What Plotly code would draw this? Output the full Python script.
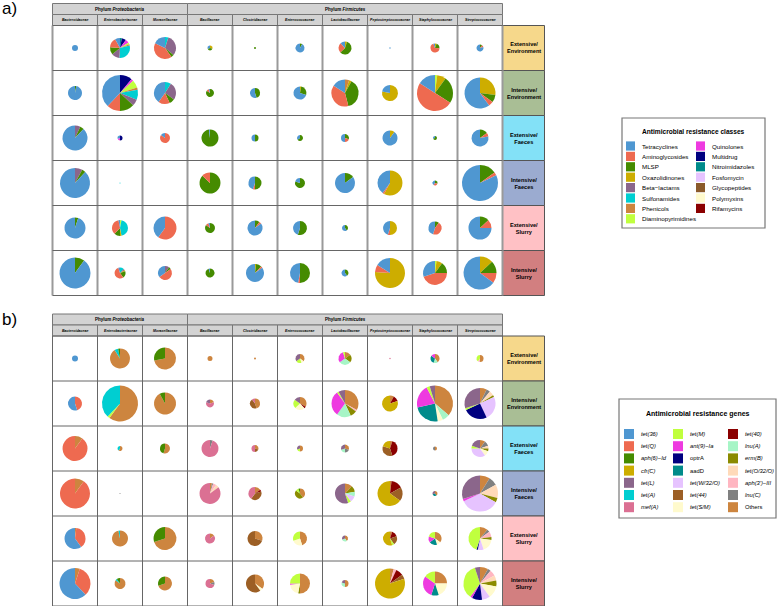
import plotly.graph_objects as go

W, H = 777, 606

FAMILIES = ['Bacteroidaceae', 'Enterobacteriaceae', 'Moraxellaceae', 'Bacillaceae', 'Clostridiaceae',
            'Enterococcaceae', 'Lactobacillaceae', 'Peptostreptococcaceae', 'Staphylococcaceae',
            'Streptococcaceae']
CONDITIONS = ['Extensive/<br>Environment', 'Intensive/<br>Environment', 'Extensive/<br>Faeces',
              'Intensive/<br>Faeces', 'Extensive/<br>Slurry', 'Intensive/<br>Slurry']
COND_COLORS = ['#F6D88B', '#A9BE95', '#83E1F7', '#9BABD0', '#FFC1C5', '#D27F80']

CLASSES = ['Tetracyclines', 'Aminoglycosides', 'MLSP', 'Oxazolidinones', 'Beta-lactams', 'Sulfonamides',
           'Phenicols', 'Diaminopyrimidines', 'Quinolones', 'Multidrug', 'Nitroimidazoles', 'Fosfomycin',
           'Glycopeptides', 'Polymyxins', 'Rifamycins']
CLASS_COLORS = ['#4F97D1', '#EE6A50', '#458B00', '#CDAD00', '#8B668B', '#00CED1', '#CD853F', '#C0FF3E',
                '#EE3AE0', '#000080', '#008B8B', '#E6C3FF', '#8B5A2B', '#FFFACD', '#8B0000']

GENES = ['tet(36)', 'tet(Q)', 'aph(6)-Id', 'cfr(C)', 'tet(L)', 'tet(A)', 'mef(A)', 'tet(M)', 'ant(9)-Ia',
         'optrA', 'aadD', 'tet(W/32/O)', 'tet(44)', 'tet(S/M)', 'tet(40)', 'lnu(A)', 'erm(B)',
         'tet(O/32/O)', "aph(3')-III", 'lnu(C)', 'Others']
GENE_COLORS = ['#4F97D1', '#EE6A50', '#458B00', '#CDAD00', '#8B668B', '#00CED1', '#DB7093', '#C0FF3E',
               '#EE3AE0', '#000080', '#008B8B', '#E6C3FF', '#9C5F25', '#FFFACD', '#8B0000', '#A6F5C6',
               '#8B8B00', '#FFDAB9', '#FFB6C1', '#808080', '#CD853F']

# total abundance per cell (rows = conditions, cols = families)
ABUNDANCE = [
    [36, 400, 484, 25, 4, 81, 169, 2, 81, 49],
    [196, 1296, 484, 64, 100, 169, 729, 256, 1296, 961],
    [625, 25, 100, 289, 49, 36, 64, 225, 16, 289],
    [900, 1, 0, 441, 169, 100, 400, 625, 25, 1296],
    [441, 256, 529, 100, 225, 196, 36, 196, 169, 529],
    [961, 121, 196, 81, 324, 400, 49, 900, 576, 1089],
]

# ---- panel a: resistance classes ----
CLS_EXT_ENV = [
    {'Tetracyclines': 1},
    {'Tetracyclines': .08, 'Aminoglycosides': .16, 'MLSP': .12, 'Beta-lactams': .13, 'Sulfonamides': .30,
     'Phenicols': .02, 'Diaminopyrimidines': .03, 'Quinolones': .06, 'Multidrug': .07, 'Nitroimidazoles': .03},
    {'Tetracyclines': .18, 'Aminoglycosides': .42, 'MLSP': .04, 'Beta-lactams': .31, 'Sulfonamides': .05},
    {'Tetracyclines': .3, 'MLSP': .4, 'Oxazolidinones': .3},
    {'MLSP': 1},
    {'Tetracyclines': .92, 'MLSP': .08},
    {'Tetracyclines': .12, 'Aminoglycosides': .25, 'MLSP': .58, 'Oxazolidinones': .05},
    {'Tetracyclines': 1},
    {'Tetracyclines': .06, 'Aminoglycosides': .68, 'MLSP': .2, 'Oxazolidinones': .06},
    {'Tetracyclines': .8, 'Aminoglycosides': .1, 'MLSP': .1},
]
CLS_INT_ENV = [
    {'Tetracyclines': .97, 'MLSP': .03},
    {'Tetracyclines': .38, 'Aminoglycosides': .12, 'MLSP': .13, 'Beta-lactams': .06, 'Sulfonamides': .09,
     'Phenicols': .02, 'Diaminopyrimidines': .07, 'Quinolones': .02, 'Multidrug': .11},
    {'Tetracyclines': .4, 'Aminoglycosides': .17, 'MLSP': .08, 'Beta-lactams': .26, 'Sulfonamides': .09},
    {'Tetracyclines': .05, 'Aminoglycosides': .1, 'MLSP': .85},
    {'Tetracyclines': .55, 'MLSP': .45},
    {'Tetracyclines': .7, 'MLSP': .27, 'Oxazolidinones': .03},
    {'Tetracyclines': .16, 'Aminoglycosides': .38, 'MLSP': .38, 'Oxazolidinones': .03, 'Phenicols': .05},
    {'Tetracyclines': .22, 'Oxazolidinones': .78},
    {'Tetracyclines': .16, 'Aminoglycosides': .5, 'MLSP': .24, 'Oxazolidinones': .08, 'Diaminopyrimidines': .02},
    {'Tetracyclines': .6, 'Aminoglycosides': .05, 'MLSP': .08, 'Oxazolidinones': .27},
]
CLS_EXT_FAE = [
    {'Tetracyclines': .88, 'MLSP': .05, 'Beta-lactams': .07},
    {'Tetracyclines': .3, 'Quinolones': .2, 'Multidrug': .5},
    {'Tetracyclines': .15, 'Aminoglycosides': .85},
    {'Tetracyclines': .02, 'MLSP': .98},
    {'Tetracyclines': .5, 'MLSP': .5},
    {'Tetracyclines': .35, 'MLSP': .65},
    {'Tetracyclines': .5, 'Aminoglycosides': .2, 'MLSP': .3},
    {'Tetracyclines': .9, 'Oxazolidinones': .1},
    {'Tetracyclines': .3, 'MLSP': .7},
    {'Tetracyclines': .78, 'Aminoglycosides': .07, 'MLSP': .15},
]
CLS_INT_FAE = [
    {'Tetracyclines': .88, 'MLSP': .04, 'Beta-lactams': .08},
    {'Sulfonamides': 1},
    {},
    {'Aminoglycosides': .13, 'MLSP': .87},
    {'Tetracyclines': .45, 'Aminoglycosides': .05, 'MLSP': .5},
    {'Tetracyclines': .2, 'MLSP': .8},
    {'Tetracyclines': .85, 'MLSP': .15},
    {'Tetracyclines': .4, 'Aminoglycosides': .02, 'Oxazolidinones': .58},
    {'Tetracyclines': .4, 'Aminoglycosides': .3, 'MLSP': .3},
    {'Tetracyclines': .82, 'Aminoglycosides': .03, 'MLSP': .15},
]
CLS_EXT_SLU = [
    {'Tetracyclines': .95, 'MLSP': .05},
    {'Tetracyclines': .03, 'Aminoglycosides': .35, 'MLSP': .12, 'Oxazolidinones': .03, 'Sulfonamides': .44,
     'Diaminopyrimidines': .03},
    {'Tetracyclines': .4, 'Aminoglycosides': .6},
    {'Tetracyclines': .05, 'Aminoglycosides': .1, 'MLSP': .85},
    {'Tetracyclines': .85, 'Aminoglycosides': .05, 'MLSP': .1},
    {'Tetracyclines': .45, 'MLSP': .55},
    {'Tetracyclines': .6, 'MLSP': .4},
    {'Tetracyclines': .45, 'Aminoglycosides': .05, 'Oxazolidinones': .5},
    {'Tetracyclines': .45, 'Aminoglycosides': .45, 'MLSP': .1},
    {'Tetracyclines': .75, 'Aminoglycosides': .12, 'MLSP': .13},
]
CLS_INT_SLU = [
    {'Tetracyclines': .9, 'MLSP': .1},
    {'Tetracyclines': .05, 'Aminoglycosides': .55, 'MLSP': .2, 'Oxazolidinones': .03, 'Beta-lactams': .05,
     'Sulfonamides': .12},
    {'Tetracyclines': .35, 'Aminoglycosides': .5, 'MLSP': .05, 'Beta-lactams': .1},
    {'Tetracyclines': .05, 'MLSP': .95},
    {'Tetracyclines': .85, 'Aminoglycosides': .03, 'MLSP': .1, 'Oxazolidinones': .02},
    {'Tetracyclines': .47, 'Aminoglycosides': .03, 'MLSP': .5},
    {'Tetracyclines': .6, 'MLSP': .4},
    {'Tetracyclines': .16, 'Aminoglycosides': .08, 'Oxazolidinones': .76},
    {'Tetracyclines': .3, 'Aminoglycosides': .45, 'MLSP': .15, 'Oxazolidinones': .08, 'Diaminopyrimidines': .02},
    {'Tetracyclines': .65, 'Aminoglycosides': .1, 'MLSP': .12, 'Oxazolidinones': .13},
]

# ---- panel b: resistance genes ----
GEN_EXT_ENV = [
    {'tet(36)': 1},
    {'aph(6)-Id': .03, 'tet(A)': .06, 'Others': .91},
    {'aph(6)-Id': .28, 'Others': .72},
    {'Others': 1},
    {'Others': 1},
    {'tet(L)': .35, 'tet(M)': .2, 'tet(S/M)': .1, 'Others': .35},
    {'tet(M)': .05, 'ant(9)-Ia': .3, 'lnu(A)': .3, 'erm(B)': .2, 'Others': .15},
    {'mef(A)': 1},
    {'ant(9)-Ia': .15, 'aadD': .3, 'lnu(A)': .15, 'Others': .4},
    {'tet(M)': .4, "aph(3')-III": .1, 'Others': .5},
]
GEN_INT_ENV = [
    {'tet(36)': .55, 'tet(Q)': .45},
    {'tet(A)': .38, 'tet(M)': .02, 'Others': .6},
    {'aph(6)-Id': .08, 'Others': .92},
    {'tet(L)': .2, 'mef(A)': .6, 'Others': .2},
    {'mef(A)': .1, 'tet(44)': .45, 'Others': .45},
    {'tet(L)': .15, 'tet(M)': .22, 'tet(S/M)': .25, 'tet(40)': .05, 'Others': .33},
    {'tet(L)': .08, 'tet(M)': .02, 'ant(9)-Ia': .3, 'lnu(A)': .17, 'erm(B)': .08, "aph(3')-III": .02,
     'Others': .33},
    {'cfr(C)': .8, 'tet(40)': .12, 'Others': .08},
    {'tet(L)': .05, 'tet(M)': .03, 'ant(9)-Ia': .22, 'aadD': .25, 'tet(S/M)': .05, 'lnu(A)': .07,
     'Others': .38},
    {'tet(L)': .3, 'tet(M)': .02, 'optrA': .25, 'tet(W/32/O)': .25, 'erm(B)': .02, 'tet(O/32/O)': .05,
     'lnu(C)': .04, 'Others': .07},
]
GEN_EXT_FAE = [
    {'tet(Q)': .9, 'Others': .1},
    {'tet(A)': .4, 'Others': .6},
    {'aph(6)-Id': .45, 'Others': .55},
    {'mef(A)': .95, 'lnu(C)': .05},
    {'mef(A)': .5, 'tet(44)': .2, 'Others': .3},
    {'tet(L)': .3, 'tet(M)': .2, 'Others': .5},
    {'tet(L)': .3, 'lnu(A)': .2, 'lnu(C)': .2, 'Others': .3},
    {'cfr(C)': .2, 'tet(44)': .35, 'tet(40)': .4, 'Others': .05},
    {'lnu(C)': .5, 'Others': .5},
    {'tet(L)': .2, 'tet(M)': .05, 'tet(W/32/O)': .35, 'tet(S/M)': .1, 'erm(B)': .05, 'tet(O/32/O)': .05,
     'lnu(C)': .1, 'Others': .1},
]
GEN_INT_FAE = [
    {'tet(Q)': .9, 'Others': .1},
    {'lnu(C)': 1},
    {},
    {'mef(A)': .85, 'tet(O/32/O)': .05, "aph(3')-III": .05, 'lnu(C)': .02, 'Others': .03},
    {'mef(A)': .4, 'tet(44)': .4, 'tet(40)': .05, 'Others': .15},
    {'aph(6)-Id': .05, 'tet(M)': .1, 'erm(B)': .45, 'Others': .4},
    {'tet(L)': .55, 'tet(M)': .05, 'tet(W/32/O)': .1, 'lnu(A)': .08, 'erm(B)': .1, 'Others': .12},
    {'cfr(C)': .65, 'tet(44)': .18, 'tet(40)': .15, 'Others': .02},
    {'tet(L)': .3, 'aadD': .3, 'Others': .4},
    {'tet(L)': .3, 'ant(9)-Ia': .02, 'tet(W/32/O)': .35, 'erm(B)': .04, 'tet(O/32/O)': .12, 'lnu(C)': .08,
     'Others': .09},
]
GEN_EXT_SLU = [
    {'tet(36)': .6, 'tet(Q)': .38, 'Others': .02},
    {'tet(A)': .03, 'Others': .97},
    {'aph(6)-Id': .3, 'Others': .7},
    {'mef(A)': .85, 'Others': .15},
    {'tet(44)': .7, 'Others': .3},
    {'tet(M)': .3, 'tet(S/M)': .25, 'Others': .45},
    {'tet(L)': .3, 'lnu(A)': .3, 'Others': .4},
    {'cfr(C)': .55, 'tet(M)': .05, 'tet(44)': .2, 'tet(40)': .15, 'Others': .05},
    {'tet(M)': .2, 'ant(9)-Ia': .15, 'aadD': .2, 'tet(S/M)': .1, 'Others': .35},
    {'tet(M)': .45, 'optrA': .02, 'tet(W/32/O)': .08, 'tet(S/M)': .18, 'erm(B)': .04, "aph(3')-III": .08,
     'lnu(C)': .04, 'Others': .11},
]
GEN_INT_SLU = [
    {'tet(36)': .62, 'tet(Q)': .33, 'Others': .05},
    {'aph(6)-Id': .1, 'tet(A)': .05, 'Others': .85},
    {'aph(6)-Id': .3, 'Others': .7},
    {'mef(A)': .7, 'lnu(C)': .1, 'Others': .2},
    {'tet(44)': .6, 'tet(S/M)': .05, 'Others': .35},
    {'tet(M)': .25, 'ant(9)-Ia': .02, 'tet(S/M)': .2, 'erm(B)': .03, 'Others': .5},
    {'tet(L)': .2, 'lnu(A)': .3, 'Others': .5},
    {'cfr(C)': .8, 'tet(44)': .05, 'tet(40)': .08, "aph(3')-III": .03, 'Others': .04},
    {'tet(M)': .15, 'ant(9)-Ia': .3, 'aadD': .1, 'tet(S/M)': .2, 'Others': .25},
    {'tet(L)': .05, 'tet(M)': .35, 'ant(9)-Ia': .02, 'optrA': .1, 'tet(W/32/O)': .08, 'tet(S/M)': .12,
     'erm(B)': .06, 'tet(O/32/O)': .05, "aph(3')-III": .06, 'lnu(C)': .03, 'Others': .08},
]

FONT = 'Arial, Liberation Sans, sans-serif'


def fx(x):
    return x / W


def fy(y):
    return 1 - y / H


fig = go.Figure()
shapes = []
annotations = []


def rect(x0, y0, x1, y1, fill, line='#666666', lw=1):
    shapes.append(dict(type='rect', xref='paper', yref='paper', x0=fx(x0), x1=fx(x1), y0=fy(y1), y1=fy(y0),
                       fillcolor=fill, line=dict(color=line, width=lw), layer='below'))


def line(x0, y0, x1, y1, color, lw):
    shapes.append(dict(type='line', xref='paper', yref='paper', x0=fx(x0), x1=fx(x1), y0=fy(y0), y1=fy(y1),
                       line=dict(color=color, width=lw)))


def text(x, y, s, size, xanchor='center', color='black'):
    annotations.append(dict(x=fx(x), y=fy(y), xref='paper', yref='paper', text=s, showarrow=False,
                            xanchor=xanchor, yanchor='middle', font=dict(size=size, color=color, family=FONT)))


X0, CW, RH = 52.5, 45, 45


def draw_panel(top, tag, rows, names, colors, vcol, vw):
    grid_top = top + 22
    # header rows
    rect(X0, top, X0 + 3 * CW, top + 11, '#D3D3D3', '#777777', 1)
    rect(X0 + 3 * CW, top + 0, X0 + 10 * CW, top + 11, '#D3D3D3', '#777777', 1)
    text(X0 + 1.5 * CW, top + 5.5, '<b>Phylum <i>Proteobacteria</i></b>', 4.5)
    text(X0 + 6.5 * CW, top + 5.5, '<b>Phylum <i>Firmicutes</i></b>', 4.5)
    for j, fam in enumerate(FAMILIES):
        rect(X0 + j * CW, top + 11, X0 + (j + 1) * CW, grid_top, '#D3D3D3', '#777777', 1)
        text(X0 + (j + 0.5) * CW, top + 16.5, '<b><i>%s</i></b>' % fam, 3.6)
    # grid
    for j in range(11):
        line(X0 + j * CW, grid_top, X0 + j * CW, grid_top + 6 * RH, vcol, vw)
    for i in range(7):
        line(X0, grid_top + i * RH, X0 + 10 * CW, grid_top + i * RH, '#666666', 1)
    # condition labels
    for i, cond in enumerate(CONDITIONS):
        y0 = grid_top + i * RH
        rect(X0 + 10 * CW, y0, X0 + 10 * CW + 42, y0 + RH, COND_COLORS[i], '#555555', 1)
        text(X0 + 10 * CW + 21, y0 + RH / 2, '<b>%s</b>' % cond, 5.6)
    text(0, top + 5, tag, 17, xanchor='left')
    # pies: first category starts at 12 o'clock and runs counterclockwise,
    # which is the reversed order drawn clockwise
    maxa = max(max(r) for r in ABUNDANCE)
    rnames = names[::-1]
    rcolors = colors[::-1]
    for i, row in enumerate(rows):
        for j, comp in enumerate(row):
            a = ABUNDANCE[i][j]
            if a <= 0 or not comp:
                continue
            r = 18 * (a / maxa) ** 0.5
            cx = X0 + (j + 0.5) * CW
            cy = grid_top + (i + 0.5) * RH
            fig.add_trace(go.Pie(
                labels=rnames, values=[comp.get(n, 0) for n in rnames],
                marker=dict(colors=rcolors, line=dict(width=0)),
                sort=False, direction='clockwise', rotation=0,
                textinfo='none', showlegend=False, hoverinfo='label+percent',
                domain=dict(x=[fx(cx - r), fx(cx + r)], y=[fy(cy + r), fy(cy - r)])))


draw_panel(3.5, 'a)', [CLS_EXT_ENV, CLS_INT_ENV, CLS_EXT_FAE, CLS_INT_FAE, CLS_EXT_SLU, CLS_INT_SLU],
           CLASSES, CLASS_COLORS, '#9a9a9a', 2)
draw_panel(314, 'b)', [GEN_EXT_ENV, GEN_INT_ENV, GEN_EXT_FAE, GEN_INT_FAE, GEN_EXT_SLU, GEN_INT_SLU],
           GENES, GENE_COLORS, '#666666', 1)

# legend a: classes, two columns
rect(622, 118, 765, 228, 'white', '#777777', 1.2)
text(693.5, 131, '<b>Antimicrobial resistance classes</b>', 6.6)
for k, name in enumerate(CLASSES):
    col, rw = (0, k) if k < 8 else (1, k - 8)
    sx = 626 if col == 0 else 696
    sy = 146 + rw * 10.4
    rect(sx, sy - 4.6, sx + 9, sy + 4.6, CLASS_COLORS[k], CLASS_COLORS[k], 0)
    text(sx + 14, sy, name.replace('-', '\u2212'), 6.2, xanchor='left')

# legend b: genes, three columns
rect(619, 399, 776, 518, 'white', '#777777', 1.2)
text(698, 414, '<b>Antimicrobial resistance genes</b>', 7)
for k, name in enumerate(GENES):
    col, rw = divmod(k, 7)
    sx = [624, 673, 728][col]
    sy = 434 + rw * 12.2
    rect(sx, sy - 5, sx + 10, sy + 5, GENE_COLORS[k], GENE_COLORS[k], 0)
    label = name.replace('-', '\u2212')
    if name not in ('Others', 'optrA', 'aadD'):
        label = '<i>%s</i>' % label
    text(sx + 15, sy, label, 5.8, xanchor='left')

fig.update_layout(width=W, height=H, margin=dict(l=0, r=0, t=0, b=0),
                  paper_bgcolor='white', plot_bgcolor='white',
                  shapes=shapes, annotations=annotations, font=dict(family=FONT))
fig.write_html("out.html", config={'displayModeBar': False},
               post_script="document.body.style.margin='0';document.body.style.overflow='hidden';")
